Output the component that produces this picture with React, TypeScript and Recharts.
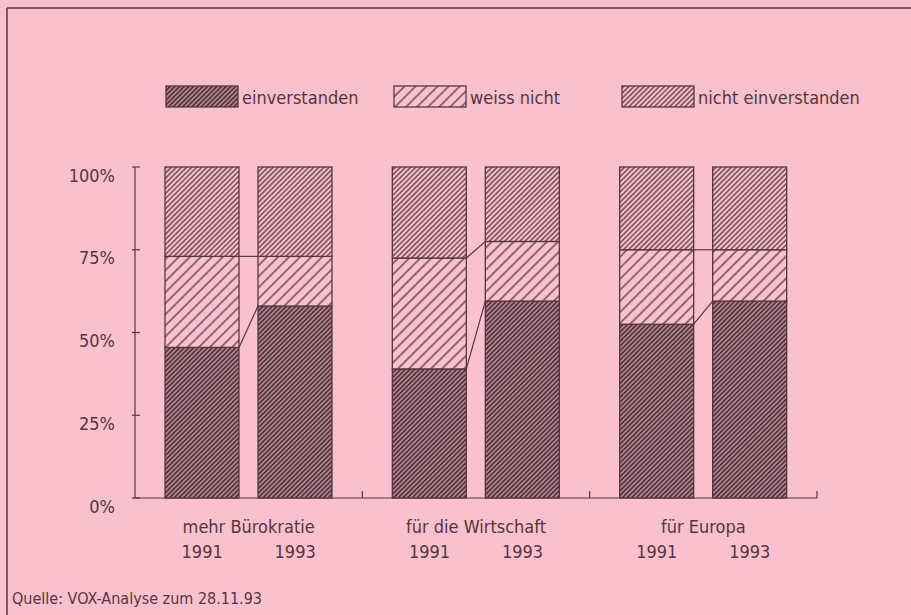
import React from 'react';
import { BarChart, Bar, XAxis, YAxis } from 'recharts';

// ---- data ----
const categories = ['mehr Bürokratie', 'für die Wirtschaft', 'für Europa'];
const years = ['1991', '1993'];
const einverstanden1991 = [45.5, 39, 52.5];
const weissNicht1991 = [27.5, 33.5, 22.5];
const nichtEinverstanden1991 = [27, 27.5, 25];
const einverstanden1993 = [58, 59.5, 59.5];
const weissNicht1993 = [15, 18, 15.5];
const nichtEinverstanden1993 = [27, 22.5, 25];
const yTicks = [0, 25, 50, 75, 100];
const legendLabels = ['einverstanden', 'weiss nicht', 'nicht einverstanden'];
const sourceText = 'Quelle: VOX-Analyse zum 28.11.93';

const data = categories.map((cat, i) => ({
  cat,
  e91: einverstanden1991[i],
  w91: weissNicht1991[i],
  n91: nichtEinverstanden1991[i],
  e93: einverstanden1993[i],
  w93: weissNicht1993[i],
  n93: nichtEinverstanden1993[i],
}));

// ---- style ----
const INK = '#563640';
const PINK = '#f9c0cd';
const FONT = '"Liberation Sans Narrow", "DejaVu Sans Condensed", "Liberation Sans", sans-serif';
const BAR_SIZE = 74;
const BAR_GAP = 19;
const W = 911;
const H = 615;

const Patterns = () => (
  <defs>
    <pattern id="pat-e" width="3.3" height="3.3" patternUnits="userSpaceOnUse" patternTransform="rotate(45)">
      <rect width="3.3" height="3.3" fill={INK} />
      <line x1="1.65" y1="0" x2="1.65" y2="3.3" stroke={PINK} strokeWidth="0.9" />
    </pattern>
    <pattern id="pat-w" width="7.8" height="7.8" patternUnits="userSpaceOnUse" patternTransform="rotate(45)">
      <rect width="7.8" height="7.8" fill={PINK} />
      <line x1="3.9" y1="0" x2="3.9" y2="7.8" stroke={INK} strokeWidth="1.3" />
    </pattern>
    <pattern id="pat-n" width="3.6" height="3.6" patternUnits="userSpaceOnUse" patternTransform="rotate(45)">
      <rect width="3.6" height="3.6" fill={PINK} />
      <line x1="1.8" y1="0" x2="1.8" y2="3.6" stroke={INK} strokeWidth="1.3" />
    </pattern>
  </defs>
);

const makeShape = (pat: string, connect?: 'e' | 'w') => (props: any) => {
  const { x, y, width, height, payload } = props;
  const parts: any[] = [
    <rect key="r" x={x} y={y} width={width} height={height} fill={`url(#${pat})`} stroke={INK} strokeWidth={1.3} />,
  ];
  if (connect && height > 0 && payload) {
    let prevY = y;
    if (connect === 'e') {
      const ppu = height / payload.e93;
      const bottom = y + height;
      prevY = bottom - payload.e91 * ppu;
    } else {
      const ppu = height / payload.w93;
      const bottom = y + height + payload.e93 * ppu;
      prevY = bottom - (payload.e91 + payload.w91) * ppu;
    }
    parts.push(<line key="l" x1={x - BAR_GAP} y1={prevY} x2={x} y2={y} stroke={INK} strokeWidth={1.2} />);
  }
  return <g>{parts}</g>;
};

const YTick = (props: any) => {
  const { x, y, payload } = props;
  return (
    <g>
      <line x1={x - 3} x2={x + 5} y1={y} y2={y} stroke={INK} strokeWidth={1.2} />
      <text x={x - 20} y={y + 8} textAnchor="end" dominantBaseline="central" fill={INK} fontFamily={FONT} fontSize={18}>
        {`${payload.value}%`}
      </text>
    </g>
  );
};

const XTick = (props: any) => {
  const { x, y, payload, width, visibleTicksCount } = props;
  const half = payload && payload.offset ? payload.offset : width / (visibleTicksCount || 3) / 2;
  const yearOff = (BAR_SIZE + BAR_GAP) / 2;
  return (
    <g>
      <line x1={x + half} x2={x + half} y1={y} y2={y - 7} stroke={INK} strokeWidth={1.2} />
      <text x={x} y={y + 28} textAnchor="middle" dominantBaseline="central" fill={INK} fontFamily={FONT} fontSize={18}>
        {payload.value}
      </text>
      <text x={x - yearOff} y={y + 53} textAnchor="middle" dominantBaseline="central" fill={INK} fontFamily={FONT} fontSize={18}>
        {years[0]}
      </text>
      <text x={x + yearOff} y={y + 53} textAnchor="middle" dominantBaseline="central" fill={INK} fontFamily={FONT} fontSize={18}>
        {years[1]}
      </text>
    </g>
  );
};

const legendSwatchX = [166, 394, 622];
const legendPats = ['pat-e', 'pat-w', 'pat-n'];

export default function App() {
  return (
    <div style={{ position: 'absolute', left: 0, top: 0, width: W, height: H, background: PINK, overflow: 'hidden' }}>
      <svg width={W} height={H} style={{ position: 'absolute', left: 0, top: 0 }}>
        <Patterns />
        <line x1={7} y1={8} x2={W} y2={8} stroke={INK} strokeWidth={1.5} />
        <line x1={7} y1={8} x2={7} y2={H} stroke={INK} strokeWidth={1.5} />
        {legendLabels.map((lab, i) => (
          <g key={lab}>
            <rect x={legendSwatchX[i]} y={86} width={72} height={21} fill={`url(#${legendPats[i]})`} stroke={INK} strokeWidth={1.3} />
            <text x={legendSwatchX[i] + 76} y={97} dominantBaseline="central" fill={INK} fontFamily={FONT} fontSize={18}>
              {lab}
            </text>
          </g>
        ))}
        <text x={12} y={598} dominantBaseline="central" fill={INK} fontFamily={FONT} fontSize={16}>
          {sourceText}
        </text>
      </svg>
      <div style={{ position: 'absolute', left: 0, top: 0 }}>
        <BarChart width={W} height={H} data={data} margin={{ top: 167, right: 94, bottom: 77, left: 0 }} barSize={BAR_SIZE} barGap={BAR_GAP}>
          <XAxis
            dataKey="cat"
            height={40}
            axisLine={{ stroke: INK, strokeWidth: 1.2 }}
            tickLine={false}
            tickSize={0}
            tickMargin={0}
            tick={<XTick />}
            interval={0}
          />
          <YAxis
            width={135}
            domain={[0, 100]}
            ticks={yTicks}
            type="number"
            axisLine={{ stroke: INK, strokeWidth: 1.2 }}
            tickLine={false}
            tickSize={0}
            tickMargin={0}
            tick={<YTick />}
            interval={0}
          />
          <Bar dataKey="e91" stackId="y1991" isAnimationActive={false} shape={makeShape('pat-e')} />
          <Bar dataKey="w91" stackId="y1991" isAnimationActive={false} shape={makeShape('pat-w')} />
          <Bar dataKey="n91" stackId="y1991" isAnimationActive={false} shape={makeShape('pat-n')} />
          <Bar dataKey="e93" stackId="y1993" isAnimationActive={false} shape={makeShape('pat-e', 'e')} />
          <Bar dataKey="w93" stackId="y1993" isAnimationActive={false} shape={makeShape('pat-w', 'w')} />
          <Bar dataKey="n93" stackId="y1993" isAnimationActive={false} shape={makeShape('pat-n')} />
        </BarChart>
      </div>
    </div>
  );
}
